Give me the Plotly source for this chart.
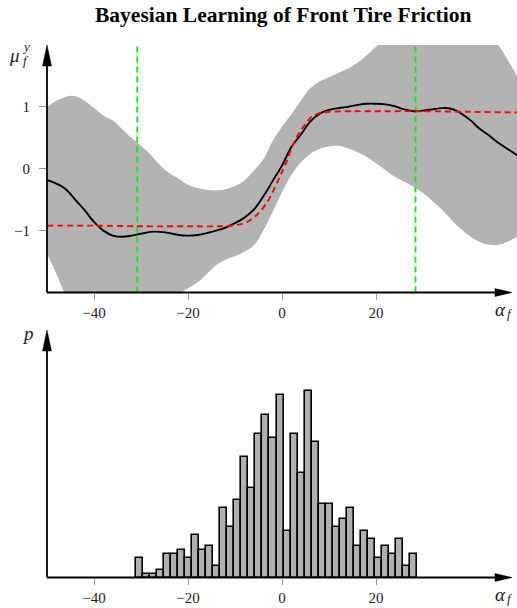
import numpy as np
import plotly.graph_objects as go

# ---------------- data ----------------
# posterior mean of the learned friction curve (black)
mean_x = [-50, -48, -46, -44, -42, -40, -38, -36, -34, -32, -30, -28, -26, -24, -22,
          -20, -18, -16, -14, -12, -10, -8, -6, -4, -2, 0, 2, 4, 6, 8, 10, 12, 14,
          16, 18, 20, 22, 24, 26, 28, 30, 32, 34, 36, 38, 40, 42, 44, 46, 48, 50]
mean_y = [-0.18, -0.24, -0.33, -0.50, -0.67, -0.86, -1.00, -1.08, -1.10, -1.08, -1.05,
          -1.02, -1.02, -1.04, -1.07, -1.08, -1.07, -1.04, -1.00, -0.95, -0.88, -0.79,
          -0.66, -0.45, -0.20, 0.05, 0.35, 0.55, 0.76, 0.89, 0.95, 0.98, 1.00, 1.03,
          1.05, 1.05, 1.04, 1.01, 0.96, 0.93, 0.94, 0.96, 0.98, 0.97, 0.90, 0.79, 0.65,
          0.54, 0.42, 0.32, 0.22]

# true friction curve (red dashed)
true_x = [-50, -40, -30, -20, -14, -11, -9, -7, -5, -3, -1, 0, 1, 2, 3, 4, 5, 6, 7, 8,
          10, 15, 20, 30, 40, 50]
true_y = [-0.92, -0.92, -0.93, -0.93, -0.93, -0.92, -0.90, -0.84, -0.72, -0.52, -0.22,
          -0.05, 0.12, 0.33, 0.49, 0.62, 0.72, 0.82, 0.87, 0.90, 0.92, 0.93, 0.93, 0.93,
          0.92, 0.91]

# confidence band (gray)
upper_x = [-50, -48, -46, -45, -44, -42, -40, -38, -36, -34, -32, -30, -28, -26, -24,
           -22, -20, -18, -16, -14, -12, -10, -8, -6, -4, -2, 0, 1, 2, 3, 4, 5, 6, 8,
           10, 12, 14, 16, 18, 20, 22, 25, 30, 35, 40, 44, 46, 48, 50]
upper_y = [1.00, 1.10, 1.16, 1.18, 1.17, 1.10, 0.98, 0.86, 0.78, 0.64, 0.50, 0.37, 0.23,
           0.06, -0.07, -0.16, -0.26, -0.31, -0.34, -0.35, -0.33, -0.28, -0.19, -0.03,
           0.15, 0.45, 0.68, 0.78, 0.88, 0.99, 1.10, 1.21, 1.30, 1.41, 1.48, 1.55, 1.62,
           1.71, 1.83, 1.97, 2.12, 2.25, 2.35, 2.40, 2.35, 2.15, 2.00, 1.76, 1.50]
lower_x = [-50, -48, -46, -44, -40, -35, -30, -26, -22, -20, -18, -16, -14, -12, -10,
           -8, -6, -4, -2, 0, 2, 4, 6, 8, 10, 12, 14, 16, 18, 20, 22, 24, 26, 28, 30,
           32, 34, 36, 38, 40, 42, 44, 46, 48, 50]
lower_y = [-1.37, -1.70, -2.05, -2.30, -2.75, -2.90, -2.55, -2.20, -2.02, -1.93, -1.84,
           -1.70, -1.56, -1.47, -1.41, -1.34, -1.24, -1.00, -0.70, -0.38, -0.10, 0.10,
           0.24, 0.32, 0.36, 0.37, 0.33, 0.27, 0.19, 0.09, -0.02, -0.13, -0.21, -0.29,
           -0.39, -0.52, -0.66, -0.82, -0.97, -1.09, -1.18, -1.23, -1.23, -1.18, -1.10]

# range of the observed data (green dashed)
data_bounds = [-30.8, 28.4]

# histogram of observed slip angles
hist_start = -31.07
hist_width = 1.495
hist_counts = [5, 1, 1, 2, 6, 6, 7, 5, 11, 7, 8, 3, 18, 13, 20, 31, 23, 37, 42, 36,
               47, 12, 37, 27, 48, 35, 19, 19, 13, 15, 18, 8, 12, 10, 5, 8, 6, 10, 3, 6]

tick_vals = [-40, -20, 0, 20]
tick_text = ["\u221240", "\u221220", "0", "20"]
ytick_vals = [-1, 0, 1]
ytick_text = ["\u22121", "0", "1"]

# ---------------- figure ----------------
W, H = 517, 608
L = 47
SERIF = "Liberation Serif"
SM = 1.15

fig = go.Figure()

fig.add_trace(go.Scatter(x=lower_x, y=lower_y, mode="lines",
                         line=dict(width=0, shape="spline", smoothing=SM),
                         hoverinfo="skip", xaxis="x", yaxis="y"))
fig.add_trace(go.Scatter(x=upper_x, y=upper_y, mode="lines", fill="tonexty",
                         fillcolor="#b3b3b3",
                         line=dict(width=0, shape="spline", smoothing=SM),
                         hoverinfo="skip", xaxis="x", yaxis="y"))
for gx in data_bounds:
    fig.add_trace(go.Scatter(x=[gx, gx], y=[-2, 2], mode="lines",
                             line=dict(color="#00f000", width=1.8, dash="6px,4px"),
                             xaxis="x", yaxis="y"))
fig.add_trace(go.Scatter(x=mean_x, y=mean_y, mode="lines",
                         line=dict(color="black", width=1.9, shape="spline", smoothing=SM),
                         xaxis="x", yaxis="y"))
fig.add_trace(go.Scatter(x=true_x, y=true_y, mode="lines",
                         line=dict(color="#ff0000", width=1.9, dash="6px,4px",
                                   shape="spline", smoothing=0.9),
                         xaxis="x", yaxis="y"))

centers = hist_start + hist_width * (np.arange(len(hist_counts)) + 0.5)
fig.add_trace(go.Bar(x=centers, y=hist_counts, width=hist_width,
                     marker=dict(color="#b0b0b0", line=dict(color="black", width=1.6)),
                     xaxis="x2", yaxis="y2"))

top_dom = [1 - 292.5 / H, 1 - 45 / H]
bot_dom = [1 - 577.5 / H, 1 - 330 / H]

xcommon = dict(range=[-50, 50], domain=[0, 1], showgrid=False, zeroline=False,
               showline=False, ticks="outside", ticklen=6, tickwidth=1,
               tickcolor="#999999", tickvals=tick_vals, ticktext=tick_text,
               tickfont=dict(family=SERIF, size=15, color="#222222"), fixedrange=True)

fig.update_layout(
    width=W, height=H, margin=dict(l=L, r=0, t=0, b=0),
    paper_bgcolor="white", plot_bgcolor="white", showlegend=False, bargap=0,
    xaxis=dict(anchor="y", **xcommon),
    yaxis=dict(domain=top_dom, range=[-2, 2], showgrid=False, zeroline=False,
               showline=False, ticks="outside", ticklen=7, tickwidth=1,
               tickcolor="#999999", tickvals=ytick_vals, ticktext=ytick_text,
               ticklabelstandoff=6,
               tickfont=dict(family=SERIF, size=15, color="#222222"), fixedrange=True),
    xaxis2=dict(anchor="y2", **xcommon),
    yaxis2=dict(domain=bot_dom, range=[0, 63.8], showgrid=False, zeroline=False,
                showline=False, showticklabels=False, ticks="", fixedrange=True),
)

# axis lines with arrow heads
shapes = []
for xr, yr in (("x", "y"), ("x2", "y2")):
    xd, yd = xr + " domain", yr + " domain"
    shapes.append(dict(type="line", xref=xd, yref=yd, x0=0, y0=0, x1=0.975, y1=0,
                       line=dict(color="black", width=1.8)))
    shapes.append(dict(type="line", xref=xd, yref=yd, x0=0, y0=0, x1=0, y1=0.97,
                       line=dict(color="black", width=1.8)))
    shapes.append(dict(type="path", xref=xd, yref=yd, xsizemode="pixel",
                       ysizemode="pixel", xanchor=(512 - L) / 470, yanchor=0,
                       path="M0,0 L-17,3.9 L-17,-3.9 Z", fillcolor="black",
                       line=dict(color="black", width=0.5)))
    shapes.append(dict(type="path", xref=xd, yref=yd, xsizemode="pixel",
                       ysizemode="pixel", xanchor=0, yanchor=1,
                       path="M0,0 L-4.5,-21 L4.5,-21 Z", fillcolor="black",
                       line=dict(color="black", width=0.5)))
fig.update_layout(shapes=shapes)


def px(x):
    return (x - L) / 470


def py(y):
    return 1 - y / H


ann = []
ann.append(dict(text="<b>Bayesian Learning of Front Tire Friction</b>",
                x=px(282.5), y=py(15), xref="paper", yref="paper", showarrow=False,
                xanchor="center", yanchor="middle",
                font=dict(family=SERIF, size=21.5, color="black")))
ann.append(dict(text="<i>\u03bc</i>", x=px(14), y=py(56), xref="paper", yref="paper",
                showarrow=False, xanchor="center", yanchor="middle",
                font=dict(family=SERIF, size=19, color="#222222")))
ann.append(dict(text="<i>y</i>", x=px(25.5), y=py(47), xref="paper", yref="paper",
                showarrow=False, xanchor="center", yanchor="middle",
                font=dict(family=SERIF, size=13, color="#222222")))
ann.append(dict(text="<i>f</i>", x=px(25.5), y=py(61), xref="paper", yref="paper",
                showarrow=False, xanchor="center", yanchor="middle",
                font=dict(family=SERIF, size=13, color="#222222")))
for yy in (309, 594):
    ann.append(dict(text="<i>\u03b1</i>", x=px(500), y=py(yy), xref="paper", yref="paper",
                    showarrow=False, xanchor="center", yanchor="middle",
                    font=dict(family=SERIF, size=19, color="#222222")))
    ann.append(dict(text="<i>f</i>", x=px(509.5), y=py(yy + 4), xref="paper", yref="paper",
                    showarrow=False, xanchor="center", yanchor="middle",
                    font=dict(family=SERIF, size=13, color="#222222")))
ann.append(dict(text="<i>p</i>", x=px(27.5), y=py(333), xref="paper", yref="paper",
                showarrow=False, xanchor="center", yanchor="middle",
                font=dict(family=SERIF, size=19, color="#222222")))
fig.update_layout(annotations=ann)

fig.write_html("out.html", config={"displayModeBar": False},
               post_script="document.body.style.margin='0px';document.body.style.overflow='hidden';")
